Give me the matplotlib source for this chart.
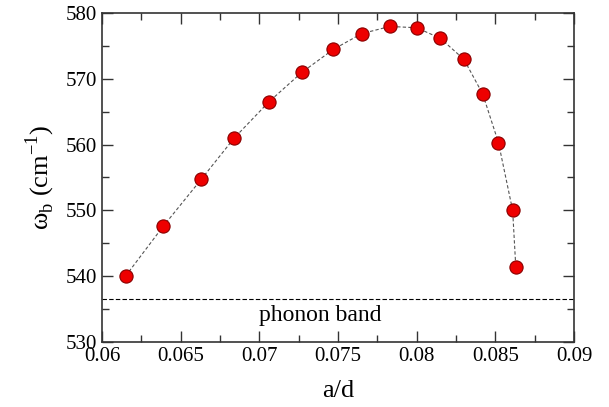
import numpy as np
import matplotlib
matplotlib.use('Agg')
import matplotlib.pyplot as plt
from matplotlib.ticker import MultipleLocator

# a/d values and the bound mode frequency
a_over_d = [0.0615, 0.0639, 0.0663, 0.0684, 0.0706, 0.0727, 0.0747, 0.0765,
            0.0783, 0.0800, 0.0815, 0.0830, 0.0842, 0.0852, 0.0861, 0.0863]
omega_b = [540.0, 547.6, 554.7, 561.0, 566.5, 571.0, 574.5, 576.9,
           578.0, 577.8, 576.2, 573.0, 567.7, 560.3, 550.0, 541.4]
phonon_edge = 536.5
xtick_labels = ['0.06', '0.065', '0.07', '0.075', '0.08', '0.085', '0.09']

plt.rcParams['font.family'] = ['Liberation Serif', 'DejaVu Serif']
plt.rcParams['mathtext.fontset'] = 'custom'
plt.rcParams['mathtext.rm'] = 'Liberation Serif'

fig = plt.figure(figsize=(6.09, 4.07), dpi=100)
ax = fig.add_axes([102/609, 1-341.7/407, 472/609, 328.4/407])

ax.plot(a_over_d, omega_b, '--', color='#555555', lw=0.8, dashes=(3, 2), zorder=2)
ax.plot(a_over_d, omega_b, 'o', ms=9.5, mfc='#ee0000', mec='#880000', mew=0.8, zorder=3)
ax.axhline(phonon_edge, color='black', lw=0.8, ls='--', dashes=(4, 2))
ax.text(0.0739, 534.0, 'phonon band', ha='center', va='center', fontsize=17)

ax.set_xlim(0.06, 0.09)
ax.set_ylim(530, 580)
ax.set_xticks([0.06, 0.065, 0.07, 0.075, 0.08, 0.085, 0.09])
ax.set_xticklabels(xtick_labels)
ax.xaxis.set_minor_locator(MultipleLocator(0.0025))
ax.yaxis.set_major_locator(MultipleLocator(10))
ax.yaxis.set_minor_locator(MultipleLocator(5))

ax.tick_params(which='both', direction='in', top=True, right=True,
               labelsize=15, color='#333333')
ax.tick_params(axis='x', pad=4)
ax.tick_params(which='major', length=8, width=1)
ax.tick_params(which='minor', length=5, width=1)
for s in ax.spines.values():
    s.set_color('#333333')
    s.set_linewidth(1.2)

ax.set_xlabel('a/d', fontsize=19, labelpad=10)
ax.set_ylabel(r'ω$_\mathrm{b}$ (cm$^\mathrm{-1}$)', fontsize=19, labelpad=6)

fig.savefig('out.png', dpi=100)
